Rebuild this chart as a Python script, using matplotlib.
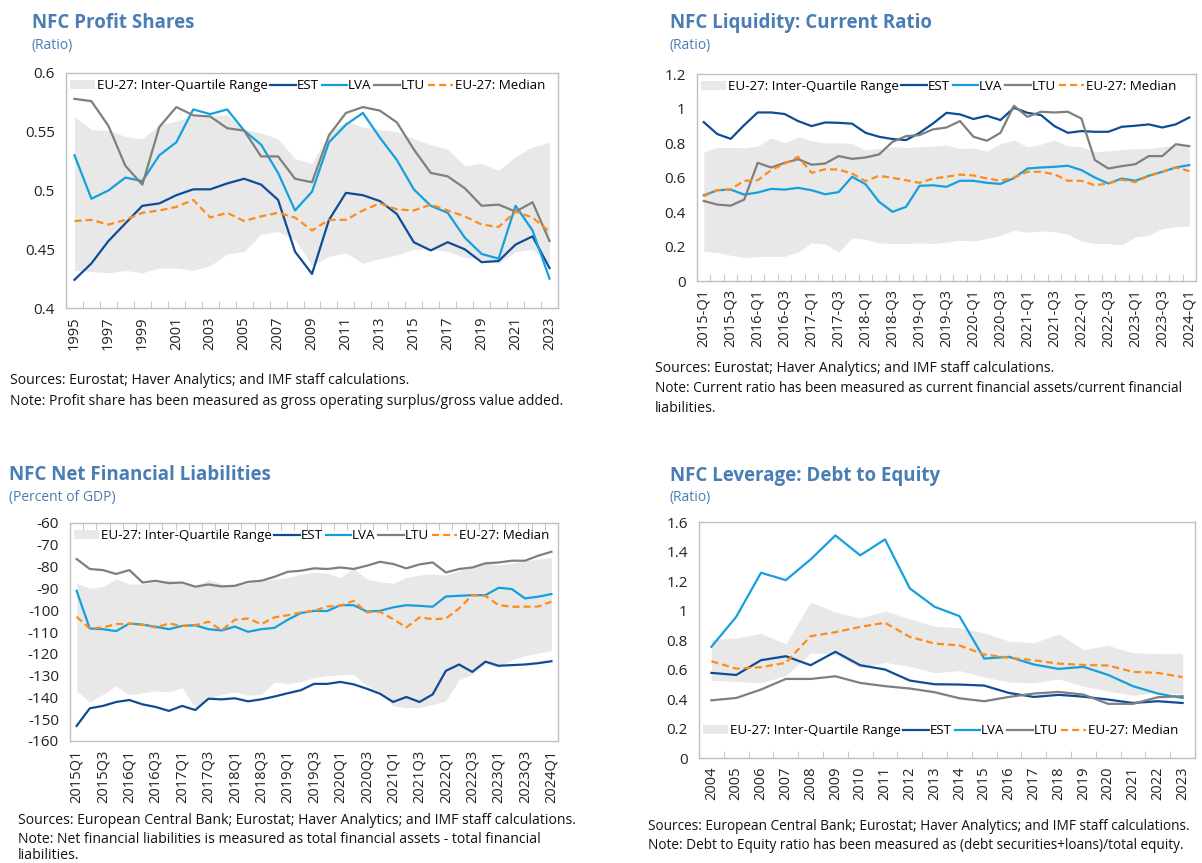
import matplotlib
matplotlib.use("Agg")
import matplotlib.pyplot as plt
import numpy as np
from matplotlib.patches import Patch
from matplotlib.lines import Line2D
from matplotlib.ticker import FuncFormatter

plt.rcParams['font.family'] = ['Open Sans', 'DejaVu Sans']
plt.rcParams['axes.unicode_minus'] = False

# ---------------- Panel 1: NFC Profit Shares (annual) ----------------
p1_years = [str(y) for y in range(1995, 2024)]
p1_est = [0.424, 0.438, 0.457, 0.472, 0.487, 0.489, 0.496, 0.501, 0.501, 0.506, 0.510, 0.505, 0.492, 0.448, 0.429,
          0.475, 0.498, 0.496, 0.491, 0.480, 0.456, 0.449, 0.456, 0.450, 0.439, 0.440, 0.454, 0.461, 0.434]
p1_lva = [0.530, 0.493, 0.500, 0.511, 0.508, 0.530, 0.541, 0.569, 0.565, 0.569, 0.551, 0.539, 0.515, 0.483, 0.499,
          0.541, 0.556, 0.566, 0.545, 0.526, 0.501, 0.487, 0.481, 0.460, 0.446, 0.442, 0.487, 0.466, 0.425]
p1_ltu = [0.578, 0.576, 0.555, 0.521, 0.505, 0.554, 0.571, 0.564, 0.563, 0.553, 0.551, 0.529, 0.529, 0.510, 0.507,
          0.547, 0.566, 0.571, 0.568, 0.558, 0.535, 0.515, 0.512, 0.502, 0.487, 0.488, 0.482, 0.490, 0.457]
p1_med = [0.474, 0.475, 0.471, 0.475, 0.481, 0.483, 0.486, 0.492, 0.477, 0.481, 0.474, 0.478, 0.481, 0.477, 0.466,
          0.475, 0.475, 0.483, 0.489, 0.484, 0.483, 0.488, 0.483, 0.478, 0.471, 0.469, 0.482, 0.477, 0.465]
p1_hi = [0.563, 0.552, 0.551, 0.546, 0.544, 0.556, 0.559, 0.564, 0.564, 0.564, 0.552, 0.549, 0.544, 0.527, 0.523,
         0.549, 0.559, 0.554, 0.552, 0.550, 0.544, 0.539, 0.535, 0.521, 0.523, 0.517, 0.529, 0.537, 0.541]
p1_lo = [0.432, 0.431, 0.430, 0.432, 0.430, 0.434, 0.434, 0.432, 0.436, 0.446, 0.448, 0.463, 0.465, 0.458, 0.436,
         0.444, 0.447, 0.438, 0.442, 0.445, 0.450, 0.450, 0.448, 0.443, 0.441, 0.438, 0.448, 0.450, 0.438]

# ---------------- Panel 2: NFC Liquidity: Current Ratio (quarterly) ----------------
p2_quarters = ["%d-Q%d" % (y, q) for y in range(2015, 2025) for q in range(1, 5)][:37]
p2_est = [0.921, 0.852, 0.824, 0.904, 0.977, 0.977, 0.968, 0.927, 0.898, 0.919, 0.917, 0.912, 0.859, 0.836, 0.823,
          0.817, 0.859, 0.913, 0.975, 0.966, 0.939, 0.958, 0.933, 1.004, 0.975, 0.962, 0.898, 0.859, 0.869, 0.865,
          0.865, 0.894, 0.900, 0.908, 0.890, 0.908, 0.948]
p2_lva = [0.497, 0.526, 0.530, 0.501, 0.513, 0.534, 0.530, 0.540, 0.526, 0.503, 0.515, 0.604, 0.561, 0.459, 0.401,
          0.430, 0.552, 0.555, 0.546, 0.581, 0.581, 0.569, 0.563, 0.596, 0.652, 0.658, 0.662, 0.668, 0.643, 0.600,
          0.565, 0.594, 0.581, 0.610, 0.633, 0.658, 0.672]
p2_ltu = [0.464, 0.443, 0.437, 0.472, 0.685, 0.658, 0.685, 0.706, 0.674, 0.681, 0.724, 0.708, 0.716, 0.734, 0.807,
          0.840, 0.846, 0.879, 0.890, 0.927, 0.836, 0.813, 0.859, 1.016, 0.952, 0.981, 0.977, 0.981, 0.942, 0.701,
          0.652, 0.666, 0.677, 0.724, 0.724, 0.793, 0.782]
p2_med = [0.492, 0.526, 0.532, 0.581, 0.584, 0.643, 0.681, 0.720, 0.627, 0.648, 0.646, 0.623, 0.579, 0.610, 0.598,
          0.584, 0.569, 0.594, 0.604, 0.617, 0.612, 0.594, 0.581, 0.600, 0.633, 0.633, 0.619, 0.581, 0.581, 0.555,
          0.565, 0.588, 0.573, 0.610, 0.633, 0.658, 0.637]
p2_hi = [0.749, 0.774, 0.774, 0.772, 0.782, 0.830, 0.801, 0.836, 0.813, 0.801, 0.801, 0.797, 0.759, 0.768, 0.778,
         0.774, 0.778, 0.782, 0.788, 0.768, 0.772, 0.753, 0.797, 0.817, 0.778, 0.793, 0.817, 0.784, 0.778, 0.749,
         0.755, 0.762, 0.766, 0.768, 0.778, 0.788, 0.782]
p2_lo = [0.172, 0.165, 0.149, 0.135, 0.143, 0.143, 0.143, 0.168, 0.221, 0.213, 0.168, 0.250, 0.242, 0.221, 0.217,
         0.217, 0.221, 0.217, 0.226, 0.236, 0.232, 0.246, 0.265, 0.294, 0.283, 0.290, 0.286, 0.271, 0.232, 0.217,
         0.217, 0.209, 0.255, 0.265, 0.304, 0.314, 0.319]

# ---------------- Panel 3: NFC Net Financial Liabilities (quarterly) ----------------
p3_quarters = ["%dQ%d" % (y, q) for y in range(2015, 2025) for q in range(1, 5)][:37]
p3_est = [-153.1, -145.0, -143.9, -142.1, -141.2, -143.2, -144.4, -146.2, -143.9, -145.8, -140.6, -140.9, -140.4,
          -141.8, -140.9, -139.6, -138.1, -136.7, -133.8, -133.8, -132.9, -134.0, -136.0, -138.3, -142.1, -139.8,
          -142.1, -138.6, -127.8, -124.9, -128.3, -123.6, -125.5, -125.2, -124.9, -124.3, -123.4]
p3_lva = [-91.1, -108.4, -108.7, -109.6, -106.1, -106.6, -107.6, -108.7, -107.2, -106.9, -108.7, -109.3, -107.5,
          -109.9, -108.7, -108.1, -104.4, -101.3, -100.3, -100.4, -97.7, -97.7, -100.6, -100.3, -98.7, -97.7, -98.0,
          -98.4, -93.7, -93.4, -93.1, -93.1, -89.7, -90.3, -94.6, -93.8, -92.6]
p3_ltu = [-76.5, -81.1, -81.6, -83.4, -81.6, -87.3, -86.5, -87.6, -87.3, -89.2, -88.2, -89.1, -88.8, -87.0, -86.5,
          -84.7, -82.4, -81.9, -80.8, -81.1, -80.4, -81.1, -79.6, -77.8, -78.8, -80.8, -79.0, -78.1, -82.7, -81.1,
          -80.4, -78.5, -78.1, -77.3, -77.3, -75.0, -73.2]
p3_med = [-103.0, -108.4, -107.9, -106.4, -106.2, -106.7, -107.9, -106.1, -107.2, -106.9, -105.3, -109.2, -104.4,
          -103.8, -106.4, -103.3, -102.3, -101.0, -100.3, -98.3, -98.0, -95.7, -101.0, -100.7, -104.1, -107.9,
          -103.3, -104.1, -103.8, -99.2, -93.1, -93.4, -97.7, -98.4, -98.4, -98.3, -96.1]
p3_hi = [-87.6, -89.9, -89.2, -85.7, -88.0, -88.0, -87.0, -86.0, -87.6, -89.1, -86.0, -88.0, -88.8, -87.6, -86.5,
         -85.7, -85.0, -83.4, -82.7, -83.0, -85.0, -80.8, -85.7, -87.0, -87.6, -85.0, -83.9, -83.4, -83.9, -81.9,
         -80.4, -78.1, -79.3, -78.5, -77.3, -76.5, -75.8]
p3_lo = [-137.0, -142.1, -138.6, -134.7, -138.9, -137.8, -137.0, -137.5, -135.5, -144.7, -140.6, -138.6, -137.5,
         -139.0, -138.6, -132.9, -133.7, -132.9, -130.9, -130.1, -129.7, -129.4, -134.7, -137.5, -143.9, -144.7,
         -144.7, -143.2, -141.6, -132.0, -129.4, -124.5, -126.3, -122.8, -120.9, -119.7, -118.6]

# ---------------- Panel 4: NFC Leverage: Debt to Equity (annual) ----------------
p4_years = [str(y) for y in range(2004, 2024)]
p4_est = [0.577, 0.563, 0.663, 0.690, 0.629, 0.720, 0.629, 0.600, 0.525, 0.500, 0.498, 0.491, 0.441, 0.414, 0.428,
          0.416, 0.396, 0.373, 0.385, 0.373]
p4_lva = [0.754, 0.957, 1.256, 1.206, 1.346, 1.509, 1.374, 1.482, 1.150, 1.025, 0.962, 0.674, 0.686, 0.634, 0.604,
          0.618, 0.563, 0.487, 0.437, 0.407]
p4_ltu = [0.391, 0.407, 0.464, 0.536, 0.536, 0.554, 0.509, 0.487, 0.471, 0.446, 0.405, 0.385, 0.414, 0.437, 0.448,
          0.430, 0.367, 0.367, 0.412, 0.419]
p4_med = [0.656, 0.606, 0.616, 0.645, 0.826, 0.853, 0.889, 0.917, 0.821, 0.776, 0.763, 0.702, 0.679, 0.663, 0.640,
          0.631, 0.627, 0.584, 0.577, 0.548]
p4_hi = [0.803, 0.815, 0.844, 0.774, 1.057, 0.989, 0.950, 0.996, 0.944, 0.894, 0.883, 0.849, 0.792, 0.781, 0.842,
         0.735, 0.763, 0.713, 0.708, 0.708]
p4_lo = [0.527, 0.520, 0.509, 0.559, 0.713, 0.702, 0.611, 0.649, 0.622, 0.577, 0.593, 0.548, 0.516, 0.509, 0.536,
         0.487, 0.453, 0.425, 0.446, 0.434]

legend_labels = ["EU-27: Inter-Quartile Range", "EST", "LVA", "LTU", "EU-27: Median"]

C_EST = "#0F4C97"
C_LVA = "#14A0DE"
C_LTU = "#7F7F7F"
C_MED = "#FF8C1A"
C_IQR = "#E8E8E8"
C_TITLE = "#4A7DB4"
C_SPINE = "#BFBFBF"

W, H = 1202, 863
fig = plt.figure(figsize=(W / 100, H / 100), dpi=100)


def ax_px(l, t, r, b):
    return fig.add_axes([l / W, 1 - b / H, (r - l) / W, (b - t) / H])


def fmt(v, pos):
    return "%g" % round(v, 4)


def draw(ax, labels, est, lva, ltu, med, lo, hi, ylim, yticks, leg_loc, ticks_top=False, step=2):
    n = len(labels)
    x = np.arange(n)
    ax.fill_between(x, lo, hi, color=C_IQR, lw=0, zorder=1)
    ax.plot(x, est, color=C_EST, lw=1.6, zorder=3)
    ax.plot(x, lva, color=C_LVA, lw=1.6, zorder=3)
    ax.plot(x, ltu, color=C_LTU, lw=1.6, zorder=3)
    ax.plot(x, med, color=C_MED, lw=1.6, ls=(0, (3.2, 1.8)), zorder=4)
    ax.set_xlim(-0.5, n - 0.5)
    ax.set_ylim(*ylim)
    ax.set_yticks(yticks)
    ax.yaxis.set_major_formatter(FuncFormatter(fmt))
    ax.set_xticks(x[::step])
    ax.set_xticklabels(labels[::step], rotation=90)
    ax.set_xticks(np.arange(n - 1) + 0.5, minor=True)
    ax.tick_params(axis='x', which='major', length=0, labelsize=10.5, pad=6, colors='#222222')
    ax.tick_params(axis='x', which='minor', length=5, direction='in', color=C_SPINE,
                   bottom=not ticks_top, top=ticks_top)
    ax.tick_params(axis='y', length=0, labelsize=11, pad=8, colors='#222222')
    for s in ax.spines.values():
        s.set_color(C_SPINE)
        s.set_linewidth(1.0)
    handles = [Patch(facecolor=C_IQR, edgecolor='none'),
               Line2D([], [], color=C_EST, lw=1.6),
               Line2D([], [], color=C_LVA, lw=1.6),
               Line2D([], [], color=C_LTU, lw=1.6),
               Line2D([], [], color=C_MED, lw=1.6, ls=(0, (3.2, 1.8)))]
    kw = dict(ncol=5, frameon=False, fontsize=9.6, handlelength=1.9, handletextpad=0.1,
              columnspacing=0.2, borderaxespad=0.2, borderpad=0.1)
    if leg_loc == 'top':
        ax.legend(handles, legend_labels, loc='upper left', bbox_to_anchor=(0.0, 0.99), **kw)
    else:
        ax.legend(handles, legend_labels, loc='lower left', bbox_to_anchor=(0.0, 0.07), **kw)


ax1 = ax_px(66, 73, 558, 308)
draw(ax1, p1_years, p1_est, p1_lva, p1_ltu, p1_med, p1_lo, p1_hi, (0.4, 0.6),
     [0.4, 0.45, 0.5, 0.55, 0.6], 'top')

ax2 = ax_px(697, 74, 1196, 281)
draw(ax2, p2_quarters, p2_est, p2_lva, p2_ltu, p2_med, p2_lo, p2_hi, (0, 1.2),
     [0, 0.2, 0.4, 0.6, 0.8, 1.0, 1.2], 'top')

ax3 = ax_px(70, 523, 558, 741)
draw(ax3, p3_quarters, p3_est, p3_lva, p3_ltu, p3_med, p3_lo, p3_hi, (-160, -60),
     list(range(-160, -50, 10)), 'top', ticks_top=True)

ax4 = ax_px(699, 522, 1195, 758)
draw(ax4, p4_years, p4_est, p4_lva, p4_ltu, p4_med, p4_lo, p4_hi, (0, 1.6),
     [0, 0.2, 0.4, 0.6, 0.8, 1.0, 1.2, 1.4, 1.6], 'bottom', step=1)


def ftext(xp, yp, s, **kw):
    fig.text(xp / W, 1 - yp / H, s, va='center', ha='left', **kw)


title_kw = dict(fontsize=13.5, fontweight='bold', color=C_TITLE)
sub_kw = dict(fontsize=10, color=C_TITLE)
note_kw = dict(fontsize=10.1, color='#111111')
note_kw_small = dict(fontsize=9.8, color='#111111')

ftext(32, 23, "NFC Profit Shares", **title_kw)
ftext(32, 46, "(Ratio)", **sub_kw)
ftext(670, 23, "NFC Liquidity: Current Ratio", **title_kw)
ftext(670, 46, "(Ratio)", **sub_kw)
ftext(9, 475, "NFC Net Financial Liabilities", **title_kw)
ftext(9, 497, "(Percent of GDP)", **sub_kw)
ftext(670, 476, "NFC Leverage: Debt to Equity", **title_kw)
ftext(670, 498, "(Ratio)", **sub_kw)

ftext(10, 380, "Sources: Eurostat; Haver Analytics; and IMF staff calculations.", **note_kw)
ftext(10, 401, "Note: Profit share has been measured as gross operating surplus/gross value added.", **note_kw)
ftext(655, 368, "Sources: Eurostat; Haver Analytics; and IMF staff calculations.", **note_kw)
ftext(655, 388, "Note: Current ratio has been measured as current financial assets/current financial", **note_kw_small)
ftext(655, 408, "liabilities.", **note_kw)
ftext(18, 820, "Sources: European Central Bank; Eurostat; Haver Analytics; and IMF staff calculations.", **note_kw)
ftext(18, 839, "Note: Net financial liabilities is measured as total financial assets - total financial", **note_kw)
ftext(18, 855, "liabilities.", **note_kw)
ftext(648, 826, "Sources: European Central Bank; Eurostat; Haver Analytics; and IMF staff calculations.", **note_kw_small)
ftext(648, 845, "Note: Debt to Equity ratio has been measured as (debt securities+loans)/total equity.", **note_kw_small)

fig.savefig("out.png", dpi=100, facecolor='white')
